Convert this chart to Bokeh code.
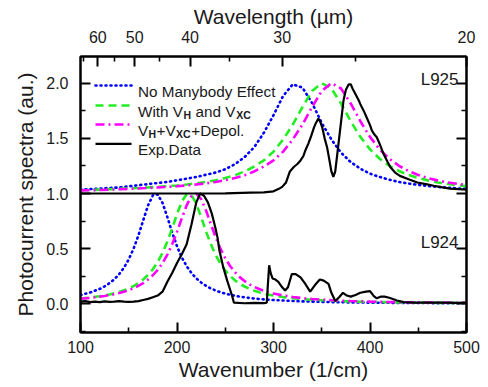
from bokeh.plotting import figure
from bokeh.models import (Range1d, LinearAxis, FixedTicker, CustomJSTickFormatter,
                          PrintfTickFormatter, Label, Arrow)
from bokeh.embed import file_html
from bokeh.resources import INLINE

FONT = "Liberation Sans"

# ---------------- data ----------------
x_major = [100, 200, 300, 400, 500]
x_minor = [150, 250, 350, 450]
y_major = [0.0, 0.5, 1.0, 1.5, 2.0]
y_minor = [-0.25, 0.25, 0.75, 1.25, 1.75]
top_labels = [60, 50, 40, 30, 20]          # wavelength (um)
top_minor_labels = [65, 55, 45, 35, 25]
# top axis mapping: position = A + B / wavelength
A_TOP, B_TOP = -73.0, 11460.0

# upper set (L925), x grid
x_up = [100, 110, 120, 130, 140, 150, 160, 170, 180, 190, 200,
        210, 220, 230, 240, 250, 260, 270, 280, 290, 300,
        310, 320, 330, 340, 350, 360, 370, 380, 390, 400,
        410, 420, 430, 440, 450, 460, 470, 480, 490, 500]
blue_up = [1.035, 1.04, 1.045, 1.05, 1.055, 1.065, 1.075, 1.085, 1.095, 1.105, 1.12,
           1.135, 1.15, 1.17, 1.19, 1.22, 1.265, 1.33, 1.42, 1.55, 1.71,
           1.885, 1.99, 1.96, 1.82, 1.64, 1.49, 1.37, 1.285, 1.225, 1.18,
           1.15, 1.125, 1.105, 1.09, 1.078, 1.068, 1.06, 1.053, 1.047, 1.042]
green_up = [1.03, 1.032, 1.035, 1.038, 1.042, 1.046, 1.05, 1.055, 1.06, 1.066, 1.073,
            1.082, 1.092, 1.105, 1.12, 1.14, 1.165, 1.2, 1.245, 1.30, 1.38,
            1.49, 1.625, 1.784, 1.93, 2.0, 1.952, 1.816, 1.655, 1.513, 1.40,
            1.315, 1.251, 1.204, 1.168, 1.14, 1.119, 1.10, 1.088, 1.076, 1.067]
magenta_up = [1.028, 1.03, 1.032, 1.035, 1.038, 1.042, 1.046, 1.05, 1.055, 1.06, 1.066,
              1.073, 1.082, 1.092, 1.105, 1.12, 1.14, 1.165, 1.2, 1.245, 1.30,
              1.38, 1.49, 1.625, 1.784, 1.93, 2.0, 1.952, 1.816, 1.655, 1.513,
              1.40, 1.315, 1.251, 1.204, 1.168, 1.14, 1.119, 1.10, 1.088, 1.076]

exp_up_x = [100, 150, 200, 250, 276, 290, 300, 305, 309, 313, 317, 321, 325, 328, 331,
            333, 336, 339, 342, 344, 346.5, 348.5, 350.5, 353, 355.5, 358, 360, 362,
            364, 366, 368, 370, 372.5, 375, 378, 380, 382, 385, 388, 390, 394, 397,
            400, 402, 405, 407, 410, 414, 418, 421, 426, 431, 440, 449, 458, 466,
            475, 483, 492, 500]
exp_up_y = [1.0, 1.0, 1.0, 1.002, 1.008, 1.01, 1.02, 1.04, 1.06, 1.1, 1.2, 1.24, 1.27, 1.3, 1.34,
            1.39, 1.45, 1.52, 1.6, 1.64, 1.68, 1.65, 1.6, 1.5, 1.42, 1.3, 1.2, 1.15,
            1.2, 1.35, 1.5, 1.65, 1.84, 1.94, 1.99, 1.99, 1.95, 1.9, 1.85, 1.81, 1.74, 1.68,
            1.62, 1.57, 1.53, 1.51, 1.45, 1.36, 1.29, 1.24, 1.19, 1.16, 1.13, 1.10, 1.085, 1.07,
            1.055, 1.045, 1.04, 1.035]

# lower set (L924), x grid
x_low = [100, 110, 120, 125, 130, 135, 140, 145, 150, 155, 160, 165, 170, 175, 180,
         185, 190, 195, 200, 205, 210, 215, 220, 225, 230, 235, 240, 245, 250, 255,
         260, 265, 270, 275, 280, 285, 290, 295, 300,
         310, 320, 330, 340, 350, 360, 370, 380, 390, 400,
         410, 420, 430, 440, 450, 460, 470, 480, 490, 500]
blue_low = [0.080, 0.103, 0.136, 0.158, 0.187, 0.222, 0.268, 0.327, 0.403, 0.500, 0.620,
            0.758, 0.892, 0.983, 0.992, 0.915, 0.786, 0.647, 0.522, 0.420, 0.341, 0.279,
            0.231, 0.193, 0.164, 0.140, 0.121, 0.105, 0.093, 0.082, 0.073, 0.065, 0.059,
            0.053, 0.048, 0.044, 0.040, 0.037, 0.034,
            0.030, 0.026, 0.022, 0.020, 0.018, 0.016, 0.014, 0.013, 0.012, 0.011,
            0.010, 0.009, 0.008, 0.008, 0.007, 0.007, 0.006, 0.006, 0.005, 0.005]
green_low = [0.048, 0.057, 0.069, 0.076, 0.085, 0.095, 0.108, 0.122, 0.140, 0.161, 0.188,
             0.221, 0.262, 0.313, 0.379, 0.462, 0.564, 0.684, 0.813, 0.927, 0.994, 0.986,
             0.907, 0.787, 0.658, 0.542, 0.444, 0.365, 0.302, 0.253, 0.213, 0.182, 0.157,
             0.136, 0.119, 0.105, 0.093, 0.083, 0.075,
             0.061, 0.051, 0.043, 0.037, 0.032, 0.028, 0.024, 0.022, 0.019, 0.017,
             0.016, 0.014, 0.013, 0.012, 0.011, 0.010, 0.009, 0.009, 0.008, 0.008]
magenta_low = [0.046, 0.054, 0.065, 0.071, 0.079, 0.087, 0.098, 0.110, 0.124, 0.142, 0.163,
               0.188, 0.220, 0.259, 0.308, 0.369, 0.446, 0.540, 0.652, 0.775, 0.893, 0.977,
               0.998, 0.950, 0.848, 0.725, 0.605, 0.500, 0.413, 0.343, 0.287, 0.242, 0.206,
               0.177, 0.154, 0.134, 0.118, 0.105, 0.093,
               0.076, 0.062, 0.052, 0.044, 0.038, 0.033, 0.029, 0.025, 0.023, 0.020,
               0.018, 0.016, 0.015, 0.014, 0.013, 0.012, 0.011, 0.010, 0.009, 0.009]

exp_low_x = [100, 105, 110, 115, 120, 125, 130, 135, 140, 145, 150, 155, 160, 165, 170,
             175, 180, 185, 190, 195, 200, 205, 210, 215, 220, 224, 228, 232, 236, 240,
             242, 244, 248, 252, 255, 257.5, 259, 270, 280, 290, 293, 294, 295.5, 297,
             299, 302, 305, 309, 312, 315, 319, 323, 328, 333, 338, 343, 348, 352, 357,
             360, 364, 368, 372, 376, 380, 385, 390, 396, 400, 404, 407, 411, 415, 420,
             428, 435, 445, 460, 475, 490, 500]
exp_low_y = [0.02, 0.025, 0.015, 0.02, 0.015, 0.022, 0.018, 0.02, 0.025, 0.02, 0.018, 0.02,
             0.025, 0.035, 0.045, 0.06, 0.075, 0.11, 0.2, 0.28, 0.37, 0.45, 0.54, 0.72, 0.92,
             1.0, 0.98, 0.92, 0.82, 0.68, 0.6, 0.48, 0.33, 0.21, 0.13, 0.06, 0.01, 0.005,
             0.008, 0.006, 0.01, 0.15, 0.35, 0.28, 0.23, 0.22, 0.2, 0.15, 0.12, 0.15, 0.27,
             0.27, 0.24, 0.18, 0.11, 0.17, 0.22, 0.21, 0.18, 0.1, 0.025, 0.06, 0.1, 0.075,
             0.065, 0.08, 0.1, 0.11, 0.115, 0.07, 0.05, 0.065, 0.065, 0.055, 0.03, 0.015,
             0.01, 0.012, 0.01, 0.008, 0.01]

sample_names = ["L925", "L924"]

BLUE, GREEN, MAGENTA, BLACK = "#0000FF", "#22EE22", "#FF00FF", "#000000"
styles = {
    "blue": dict(line_color=BLUE, line_width=2.6, line_dash="1 4", line_cap="round"),
    "green": dict(line_color=GREEN, line_width=2.6, line_dash="8 5"),
    "magenta": dict(line_color=MAGENTA, line_width=2.6, line_dash="9 4 2 4"),
    "black": dict(line_color=BLACK, line_width=2.2),
}

# ---------------- figure ----------------
p = figure(width=486, height=385, output_backend="svg", toolbar_location=None,
           title="Wavelength (\u00b5m)",
           x_range=Range1d(100, 500), y_range=Range1d(-0.26, 2.242),
           min_border_left=80, min_border_right=20, min_border_top=56, min_border_bottom=53)
p.xgrid.visible = False
p.ygrid.visible = False
p.outline_line_color = "black"
p.outline_line_width = 2
p.background_fill_color = "white"
p.border_fill_color = "white"

# title acts as the label of the top (wavelength) axis
p.title.text_font = FONT
p.title.text_font_size = "21px"
p.title.text_font_style = "normal"
p.title.text_color = "#1a1a1a"
p.title.align = "center"
p.title.standoff = 0
p.title.offset = -8


def style_axis(ax):
    ax.axis_line_width = 2
    ax.axis_line_color = "black"
    ax.major_tick_in = 10
    ax.major_tick_out = 0
    ax.minor_tick_in = 5
    ax.minor_tick_out = 0
    ax.major_tick_line_width = 2
    ax.minor_tick_line_width = 1.6
    ax.major_tick_line_color = "black"
    ax.minor_tick_line_color = "black"
    ax.major_label_text_font = FONT
    ax.major_label_text_font_size = "16px"
    ax.major_label_text_color = "#1a1a1a"
    ax.axis_label_text_font = FONT
    ax.axis_label_text_font_size = "21px"
    ax.axis_label_text_font_style = "normal"
    ax.axis_label_text_color = "#1a1a1a"


xb = p.xaxis[0]
style_axis(xb)
xb.ticker = FixedTicker(ticks=x_major, minor_ticks=x_minor)
xb.major_label_standoff = 8
xb.axis_label = "Wavenumber (1/cm)"
xb.axis_label_standoff = 2

yl = p.yaxis[0]
style_axis(yl)
yl.ticker = FixedTicker(ticks=y_major, minor_ticks=y_minor)
yl.formatter = PrintfTickFormatter(format="%.1f")
yl.major_label_standoff = 12
yl.axis_label = "Photocurrent spectra (au.)"
yl.axis_label_standoff = 6

top_pos = [A_TOP + B_TOP / w for w in top_labels]
top_minor_pos = [A_TOP + B_TOP / w for w in top_minor_labels]
xt = LinearAxis(ticker=FixedTicker(ticks=top_pos, minor_ticks=top_minor_pos),
                formatter=CustomJSTickFormatter(args=dict(a=A_TOP, b=B_TOP),
                                                code="return String(Math.round(b / (tick - a)));"))
style_axis(xt)
xt.major_label_standoff = 14
p.add_layout(xt, "above")

yr = LinearAxis(ticker=FixedTicker(ticks=y_major, minor_ticks=y_minor),
                formatter=CustomJSTickFormatter(code="return '';"))
style_axis(yr)
yr.major_label_text_color = None
yr.major_label_standoff = 0
p.add_layout(yr, "right")

# ---------------- curves ----------------
p.line(x_up, blue_up, **styles["blue"])
p.line(x_low, blue_low, **styles["blue"])
p.line(x_up, green_up, **styles["green"])
p.line(x_low, green_low, **styles["green"])
p.line(x_up, magenta_up, **styles["magenta"])
p.line(x_low, magenta_low, **styles["magenta"])
p.line(exp_up_x, exp_up_y, **styles["black"])
p.line(exp_low_x, exp_low_y, **styles["black"])

# ---------------- legend (manual, for subscripts) ----------------
row_y = [247, 227, 208, 188.7]
for key, yy in zip(["blue", "green", "magenta", "black"], row_y):
    p.add_layout(Arrow(end=None, x_start=15, y_start=yy, x_end=51, y_end=yy,
                       start_units="screen", end_units="screen", **styles[key]))

FS = 15.3
SUB = "10.5px"


def lab(x, y, text, size=f"{FS}px", style="normal"):
    p.add_layout(Label(x=x, y=y, x_units="screen", y_units="screen", text=text,
                       text_font=FONT, text_font_size=size, text_font_style=style,
                       text_color="#1a1a1a", text_baseline="alphabetic", text_align="left"))


TX = 57.5
BO = 5.5
# row 1
lab(TX, row_y[0] - BO, "No Manybody Effect")
# row 2: With V_H and V_XC
b2 = row_y[1] - BO
lab(TX, b2, "With V")
lab(TX + 45.6, b2 - 4, "H", SUB, "bold")
lab(TX + 57.6, b2, "and V")
lab(TX + 98.2, b2 - 4, "XC", SUB, "bold")
# row 3: V_H+V_XC+Depol.
b3 = row_y[2] - BO
lab(TX, b3, "V")
lab(TX + 10.5, b3 - 4, "H", SUB, "bold")
lab(TX + 18.6, b3, "+V")
lab(TX + 38.0, b3 - 4, "XC", SUB, "bold")
lab(TX + 53.2, b3, "+Depol.")
# row 4
lab(TX, row_y[3] - BO, "Exp.Data")

# sample labels
for name, yy in zip(sample_names, [253, 90]):
    p.add_layout(Label(x=378, y=yy, x_units="screen", y_units="screen", text=name,
                       text_font=FONT, text_font_size="17px", text_color="#1a1a1a",
                       text_baseline="alphabetic", text_align="right"))

open("out.html", "w").write(file_html(p, INLINE))
